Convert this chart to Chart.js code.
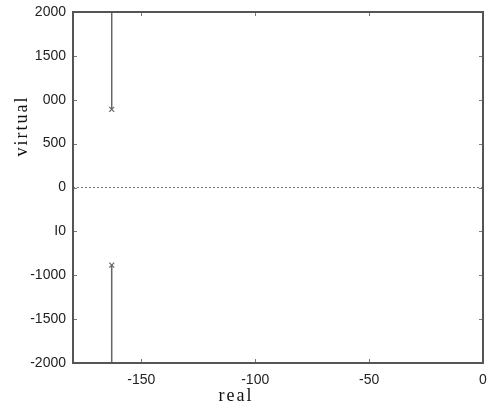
<!DOCTYPE html>
<html lang="en">
<head>
    <meta charset="UTF-8">
    <title>Root locus</title>
    <script src="https://cdn.jsdelivr.net/npm/chart.js"></script>
    <style>
        html, body { margin: 0; padding: 0; background: #fff; }
        #wrap { width: 492px; height: 410px; }
    </style>
</head>
<body>
    <div id="wrap"><canvas id="locus" width="492" height="410"></canvas></div>

    <script>
        // data
        const xTicks = [-150, -100, -50, 0];
        const xTickLabels = ['-150', '-100', '-50', '0'];
        const yTicks = [-2000, -1500, -1000, -500, 0, 500, 1000, 1500, 2000];
        const yTickLabels = ['-2000', '-1500', '-1000', 'I0', '0', '500', '000', '1500', '2000'];

        const upperReal = [-163, -163];
        const upperVirtual = [890, 2000];
        const lowerReal = [-163, -163];
        const lowerVirtual = [-885, -2000];
        const poleReal = [-163, -163];
        const poleVirtual = [890, -885];
        const zeroLineReal = [-180, 0];
        const zeroLineVirtual = [0, 0];

        const pts = (xs, ys) => xs.map((x, i) => ({x: x, y: ys[i]}));

        // inward ticks on all four sides + axis titles
        const boxTicks = {
            id: 'boxTicks',
            afterDraw(chart) {
                const ctx = chart.ctx;
                const a = chart.chartArea;
                const xs = chart.scales.x, ys = chart.scales.y;
                ctx.save();
                ctx.strokeStyle = '#777';
                ctx.lineWidth = 1;
                ctx.beginPath();
                xTicks.forEach(v => {
                    const px = Math.round(xs.getPixelForValue(v)) + 0.5;
                    ctx.moveTo(px, a.bottom); ctx.lineTo(px, a.bottom - 4);
                    ctx.moveTo(px, a.top); ctx.lineTo(px, a.top + 4);
                });
                yTicks.forEach(v => {
                    const py = Math.round(ys.getPixelForValue(v)) + 0.5;
                    ctx.moveTo(a.left, py); ctx.lineTo(a.left + 4, py);
                    ctx.moveTo(a.right, py); ctx.lineTo(a.right - 4, py);
                });
                ctx.stroke();
                ctx.lineWidth = 2;
                ctx.strokeStyle = '#555';
                ctx.strokeRect(a.left, a.top, a.right - a.left, a.bottom - a.top);

                ctx.fillStyle = '#111';
                ctx.font = '18px "Liberation Serif"';
                ctx.letterSpacing = '2px';
                ctx.textAlign = 'center';
                ctx.textBaseline = 'middle';
                ctx.fillText('real', 236, 396);
                ctx.translate(22, 126);
                ctx.rotate(-Math.PI / 2);
                ctx.fillText('virtual', 0, 0);
                ctx.restore();
            }
        };

        const ctx = document.getElementById('locus').getContext('2d');
        new Chart(ctx, {
            type: 'scatter',
            data: {
                datasets: [
                    {
                        data: pts(zeroLineReal, zeroLineVirtual),
                        showLine: true,
                        borderColor: '#777',
                        borderWidth: 1,
                        borderDash: [2, 2],
                        pointRadius: 0
                    },
                    {
                        data: pts(upperReal, upperVirtual),
                        showLine: true,
                        borderColor: '#666',
                        borderWidth: 1.5,
                        pointRadius: 0
                    },
                    {
                        data: pts(lowerReal, lowerVirtual),
                        showLine: true,
                        borderColor: '#666',
                        borderWidth: 1.5,
                        pointRadius: 0
                    },
                    {
                        data: pts(poleReal, poleVirtual),
                        showLine: false,
                        pointStyle: 'crossRot',
                        pointRadius: 3.5,
                        borderColor: '#666',
                        borderWidth: 1.2
                    }
                ]
            },
            options: {
                responsive: false,
                animation: false,
                layout: { padding: { left: 0, right: 9, top: 12, bottom: 0 } },
                plugins: {
                    legend: { display: false },
                    tooltip: { enabled: false }
                },
                scales: {
                    x: {
                        type: 'linear',
                        min: -180,
                        max: 0,
                        afterBuildTicks: s => { s.ticks = xTicks.map(v => ({value: v})); },
                        afterFit: s => { s.height = 47; },
                        grid: { display: false },
                        border: { display: false },
                        ticks: {
                            padding: 1,
                            maxRotation: 0,
                            color: '#222',
                            font: { family: 'Liberation Sans', size: 14 },
                            callback: v => xTickLabels[xTicks.indexOf(v)]
                        }
                    },
                    y: {
                        type: 'linear',
                        min: -2000,
                        max: 2000,
                        afterBuildTicks: s => { s.ticks = yTicks.map(v => ({value: v})); },
                        afterFit: s => { s.width = 73; },
                        grid: { display: false },
                        border: { display: false },
                        ticks: {
                            padding: -1,
                            color: '#222',
                            font: { family: 'Liberation Sans', size: 14 },
                            callback: v => yTickLabels[yTicks.indexOf(v)]
                        }
                    }
                }
            },
            plugins: [boxTicks]
        });
    </script>
</body>
</html>
